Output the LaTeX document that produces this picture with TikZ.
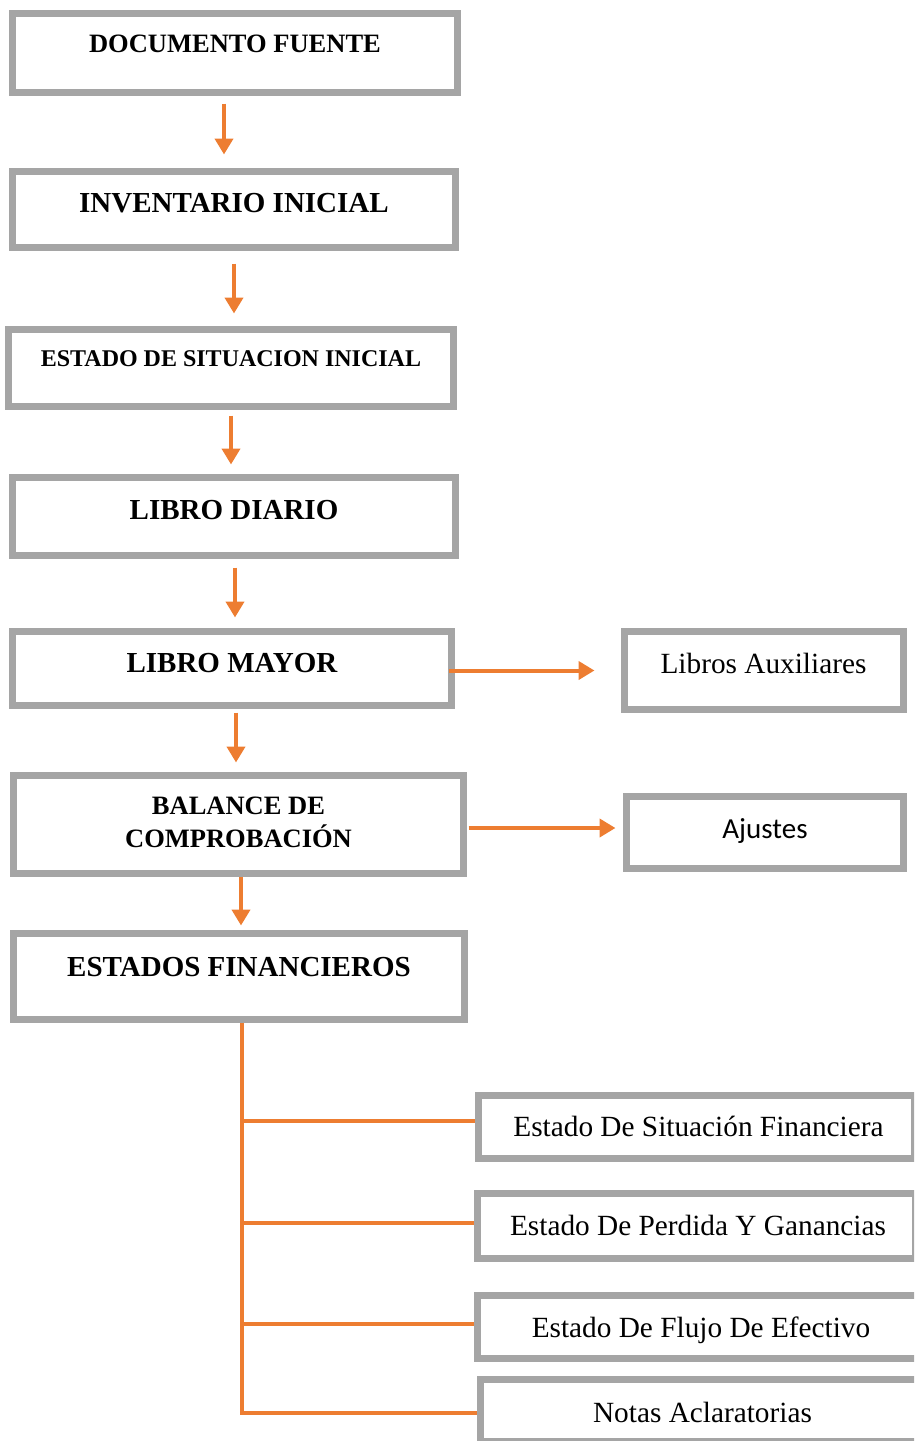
\documentclass[tikz,border=0pt]{standalone}
\usepackage{fontspec}
\setmainfont{Liberation Serif}
\newfontfamily\calibfont{Carlito}
\usetikzlibrary{arrows.meta}
\definecolor{boxgray}{HTML}{A5A5A5}
\definecolor{orng}{HTML}{ED7D31}
\begin{document}
\begin{tikzpicture}[x=1pt,y=-1pt,
  gbox/.style={draw=boxgray, line width=7pt, fill=white, rectangle, inner sep=0pt},
  txt/.style={inner sep=0pt, anchor=base, text=black},
  bigb/.style={txt, font=\bfseries\fontsize{29}{34}\selectfont},
  midb/.style={txt, font=\bfseries\fontsize{26.5}{31}\selectfont},
  smlb/.style={txt, font=\bfseries\fontsize{24}{28}\selectfont},
  reg/.style={txt, font=\fontsize{29.3}{34}\selectfont},
  sansreg/.style={txt, font=\calibfont\fontsize{29}{34}\selectfont},
  arr/.style={draw=orng, line width=4pt, -{Triangle[width=18pt,length=16pt]}},
  oline/.style={draw=orng, line width=4pt},
]
\useasboundingbox (0,0) rectangle (914,1441);
\clip (0,0) rectangle (914,1441);

% main column boxes
\node[gbox, minimum width=445pt, minimum height=79pt] (doc) at (235,53) {};
\node[gbox, minimum width=443pt, minimum height=76pt] (inv) at (234,209.5) {};
\node[gbox, minimum width=445pt, minimum height=77pt] (esi) at (231,368) {};
\node[gbox, minimum width=443pt, minimum height=78pt] (ld) at (234,516.5) {};
\node[gbox, minimum width=439pt, minimum height=74pt] (lm) at (232,668.5) {};
\node[gbox, minimum width=450pt, minimum height=98pt] (bal) at (238.5,824.5) {};
\node[gbox, minimum width=451pt, minimum height=86pt] (ef) at (239,976.5) {};

% side boxes
\node[gbox, minimum width=279pt, minimum height=78pt] (la) at (764,670.5) {};
\node[gbox, minimum width=277pt, minimum height=72pt] (aj) at (765,832.5) {};

% bottom boxes
\node[gbox, minimum width=436pt, minimum height=63pt] (esf) at (696.5,1127) {};
\node[gbox, minimum width=438pt, minimum height=65pt] (epg) at (696.5,1226) {};
\node[gbox, minimum width=444pt, minimum height=63pt] (efe) at (699.5,1327) {};
\node[gbox, minimum width=441pt, minimum height=62pt] (na) at (701,1410.5) {};

% texts
\node[midb] (docT) at (235,52.8) {DOCUMENTO FUENTE};
\node[bigb] (invT) at (234,212.6) {INVENTARIO INICIAL};
\node[smlb] (esiT) at (231,366) {ESTADO DE SITUACION INICIAL};
\node[bigb] (ldT) at (234,519.5) {LIBRO DIARIO};
\node[bigb] (lmT) at (232,672.6) {LIBRO MAYOR};
\node[midb] (balT1) at (238.5,814) {BALANCE DE};
\node[midb] (balT2) at (238.5,847) {COMPROBACIÓN};
\node[bigb] (efT) at (239,976) {ESTADOS FINANCIEROS};
\node[reg] (laT) at (763.5,673) {Libros Auxiliares};
\node[sansreg] (ajT) at (765,838) {Ajustes};
\node[reg] (esfT) at (698.5,1136) {Estado De Situación Financiera};
\node[reg] (epgT) at (698,1235) {Estado De Perdida Y Ganancias};
\node[reg] (efeT) at (701,1337) {Estado De Flujo De Efectivo};
\node[reg] (naT) at (702.5,1422) {Notas Aclaratorias};

% vertical arrows
\draw[arr] ([xshift=-11pt,yshift=-7.5pt]doc.south) -- ([xshift=-10pt,yshift=13.5pt]inv.north);
\draw[arr] ([xshift=0pt,yshift=-12.5pt]inv.south) -- ([xshift=3pt,yshift=12.5pt]esi.north);
\draw[arr] ([xshift=0pt,yshift=-5.5pt]esi.south) -- ([xshift=-3pt,yshift=9.5pt]ld.north);
\draw[arr] ([xshift=1pt,yshift=-8.5pt]ld.south) -- ([xshift=3pt,yshift=10.5pt]lm.north);
\draw[arr] ([xshift=4pt,yshift=-3.5pt]lm.south) -- ([xshift=-2.5pt,yshift=9.5pt]bal.north);
\draw[arr] ([xshift=2.5pt,yshift=0pt]bal.south) -- ([xshift=2pt,yshift=4.5pt]ef.north);

% side arrows
\draw[arr] ([xshift=-6.5pt,yshift=-2pt]lm.east) -- ([xshift=-26.5pt]la.west);
\draw[arr] ([xshift=1.5pt,yshift=-3.5pt]bal.east) -- ([xshift=-7.5pt,yshift=4.5pt]aj.west);

% trunk and branches
\coordinate (b1) at (242,1121);
\coordinate (b2) at (242,1223);
\coordinate (b3) at (242,1324);
\coordinate (b4) at (242,1413);
\draw[oline] (ef.south -| b4) -- (b4);
\draw[oline] (b1) -- (b1 -| esf.west);
\draw[oline] (b2) -- (b2 -| epg.west);
\draw[oline] (b3) -- (b3 -| efe.west);
\draw[oline] ([xshift=-2pt]b4) -- (b4 -| na.west);
\end{tikzpicture}
\end{document}
